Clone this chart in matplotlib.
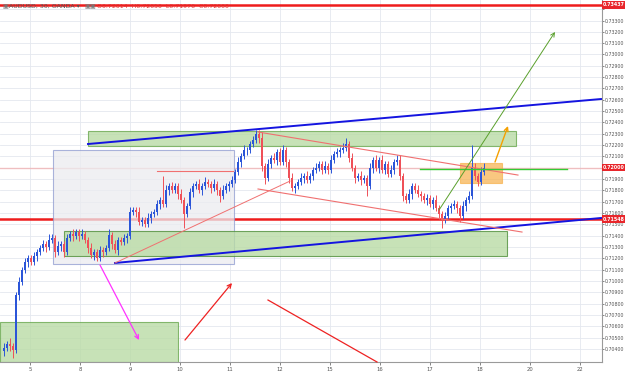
import numpy as np
import matplotlib
matplotlib.use("Agg")
import matplotlib.pyplot as plt
from matplotlib.patches import Rectangle

# ---------------- data (AUD/USD 30-minute candles) ----------------
open0 = 0.70380
closes = [
    0.70410, 0.70445, 0.70427, 0.70392, 0.70877, 0.70992, 0.71098, 0.71168, 0.71204, 0.71168,
    0.71221, 0.71257, 0.71292, 0.71327, 0.71301, 0.71363, 0.71380, 0.71257, 0.71310, 0.71327,
    0.71257, 0.71380, 0.71416, 0.71398, 0.71433, 0.71398, 0.71416, 0.71363, 0.71292, 0.71230,
    0.71257, 0.71204, 0.71274, 0.71257, 0.71292, 0.71407, 0.71327, 0.71274, 0.71363, 0.71345,
    0.71380, 0.71398, 0.71610, 0.71627, 0.71610, 0.71522, 0.71539, 0.71504, 0.71557, 0.71592,
    0.71610, 0.71680, 0.71716, 0.71680, 0.71804, 0.71839, 0.71804, 0.71839, 0.71769, 0.71716,
    0.71592, 0.71663, 0.71786, 0.71839, 0.71857, 0.71804, 0.71839, 0.71875, 0.71857, 0.71822,
    0.71857, 0.71804, 0.71751, 0.71804, 0.71839, 0.71857, 0.71892, 0.71963, 0.72051, 0.72104,
    0.72157, 0.72157, 0.72210, 0.72245, 0.72298, 0.72263, 0.72016, 0.71910, 0.72034, 0.72087,
    0.72069, 0.72139, 0.72051, 0.72157, 0.72051, 0.71910, 0.71822, 0.71839, 0.71875, 0.71910,
    0.71928, 0.71892, 0.71928, 0.71981, 0.71998, 0.72034, 0.71981, 0.72016, 0.71981, 0.72069,
    0.72122, 0.72139, 0.72157, 0.72175, 0.72210, 0.72087, 0.71998, 0.71910, 0.71928, 0.71892,
    0.71910, 0.71839, 0.71998, 0.72069, 0.71998, 0.72069, 0.71981, 0.72034, 0.71945, 0.71981,
    0.72051, 0.72069, 0.71928, 0.71751, 0.71716, 0.71769, 0.71839, 0.71804, 0.71769, 0.71751,
    0.71716, 0.71733, 0.71680, 0.71716, 0.71645, 0.71592, 0.71539, 0.71574, 0.71645, 0.71663,
    0.71680, 0.71645, 0.71574, 0.71663, 0.71716, 0.71751, 0.71998, 0.71928, 0.71875, 0.71963,
    0.72000,
]
# wick lengths in pips (0.0001)
wick_up = [
    4, 3, 5, 3, 3, 4, 3, 4, 3, 3,   4, 3, 3, 4, 3, 5, 4, 3, 4, 3,
    3, 4, 3, 4, 3, 3, 4, 3, 3, 4,   3, 3, 4, 3, 3, 5, 3, 4, 3, 3,
    4, 3, 4, 3, 3, 4, 3, 3, 4, 3,   3, 4, 3, 21, 4, 3, 4, 3, 3, 4,
    3, 3, 4, 3, 3, 4, 3, 4, 3, 3,   4, 3, 3, 4, 3, 3, 4, 3, 4, 3,
    4, 3, 3, 4, 4, 4, 5, 3, 4, 3,   4, 3, 4, 4, 3, 3, 4, 3, 3, 4,
    3, 4, 3, 3, 4, 3, 3, 4, 3, 4,   3, 4, 3, 4, 5, 3, 4, 3, 3, 4,
    3, 3, 4, 3, 4, 3, 4, 3, 3, 4,   3, 4, 4, 3, 3, 4, 3, 3, 4, 3,
    3, 4, 3, 3, 4, 3, 3, 4, 3, 3,   4, 3, 3, 4, 3, 4, 20, 4, 3, 4,
    4,
]
wick_dn = [
    4, 3, 4, 7, 3, 4, 3, 3, 4, 3,   3, 4, 3, 3, 4, 3, 3, 4, 3, 4,
    4, 3, 3, 4, 3, 4, 3, 3, 4, 3,   4, 3, 3, 4, 3, 3, 4, 3, 4, 3,
    3, 4, 3, 3, 4, 3, 4, 3, 3, 4,   3, 3, 4, 3, 3, 4, 3, 3, 4, 3,
    12, 3, 3, 4, 3, 3, 4, 3, 3, 4,  3, 4, 5, 3, 3, 4, 3, 3, 3, 4,
    3, 4, 3, 3, 3, 4, 4, 5, 3, 4,   3, 4, 3, 3, 4, 4, 3, 4, 3, 3,
    4, 3, 3, 4, 3, 3, 4, 3, 4, 3,   3, 3, 4, 3, 3, 4, 3, 4, 3, 4,
    3, 9, 3, 4, 3, 4, 3, 4, 3, 3,   4, 3, 4, 4, 3, 3, 4, 3, 3, 4,
    3, 4, 3, 4, 3, 4, 7, 3, 3, 4,   3, 4, 5, 3, 4, 3, 3, 4, 4, 3,
    3,
]
pip = 0.0001

day_ticks = [8.67, 25.33, 42.0, 58.67, 75.33, 92.0, 108.67, 125.33, 142.0, 158.67, 175.33, 192.0]
day_labels = ["5", "8", "9", "10", "11", "12", "15", "16", "17", "18", "20", "22"]
price_ticks = [round(0.704 + 0.001 * k, 3) for k in range(31)]

top_level = 0.73437
support_level = 0.71548
header_name = "AUDUSD, 30, OANDA \u25BE"
header_ohlc = "O0.72014  H0.72050  L0.71976  C0.72000"

# drawings (bar index, price)
blue_upper = ([28.0, 199.0], [0.72210, 0.72607])
blue_lower = ([37.0, 199.0], [0.71160, 0.71557])
chan_upper = ([84.67, 171.33], [0.72316, 0.71936])
chan_lower = ([84.67, 172.67], [0.71813, 0.71433])
red_diag = ([37.0, 95.33], [0.71160, 0.71883])
red_short_h = ([51.0, 76.33], [0.71976, 0.71976])
green_h = ([138.67, 187.67], [0.71990, 0.71990])
red_down_line = ([88.0, 124.33], [0.70833, 0.70286])
# rectangles: (x0, x1, p_low, p_high)
box_green_top = (28.0, 170.67, 0.72192, 0.72325)
box_green_mid = (20.0, 167.67, 0.71221, 0.71442)
box_green_bot = (-1.33, 58.0, 0.70286, 0.70639)
box_grey = (16.33, 76.67, 0.71151, 0.72157)
box_orange = (152.0, 166.0, 0.71866, 0.72042)
# arrows: (start, end)
arrow_magenta = ((32.0, 0.71142), (45.0, 0.70480))
arrow_red_up = ((60.33, 0.70480), (76.0, 0.70983))
arrow_green = ((145.0, 0.71627), (183.67, 0.73199))
arrow_orange = ((163.67, 0.72051), (168.0, 0.72369))

# ---------------- figure ----------------
W, H = 625, 372
fig = plt.figure(figsize=(W / 100, H / 100), dpi=100)
ax = fig.add_axes([0, 10 / H, 602 / W, 362 / H])
ax.set_xlim(-1.333, 199.333)
ax.set_ylim(0.70286, 0.73481)

# grid
for t in day_ticks:
    ax.axvline(t, color="#e4e8ef", lw=0.6, zorder=0)
for p in price_ticks:
    ax.axhline(p, color="#e4e8ef", lw=0.6, zorder=0)

# horizontal levels
ax.axhline(top_level, color="#ee1c1c", lw=1.8, zorder=1)
ax.axhline(support_level, color="#ee1c1c", lw=1.8, zorder=1)
ax.axhline(closes[-1], color="#f4a0a0", lw=1.0, alpha=0.6, zorder=1)

def rect(b, fc, ec, alpha, z, lw=0.8):
    x0, x1, p0, p1 = b
    ax.add_patch(Rectangle((x0, p0), x1 - x0, p1 - p0, facecolor=fc, edgecolor=ec,
                           lw=lw, alpha=alpha, zorder=z))

rect(box_grey, "#ececf0", "#8f9bd0", 0.75, 1.5)
rect(box_green_top, "#b9dba5", "#6aa84f", 0.8, 2)
rect(box_green_mid, "#b9dba5", "#4f8f3a", 0.8, 2)
rect(box_green_bot, "#b9dba5", "#6aa84f", 0.8, 2)
rect(box_orange, "#f7b04a", "#f7b04a", 0.7, 2)

# candles
c = np.array(closes)
o = np.concatenate([[open0], c[:-1]])
hi = np.maximum(o, c) + np.array(wick_up) * pip
lo = np.minimum(o, c) - np.array(wick_dn) * pip
idx = np.arange(len(c))
up = c >= o
col = np.where(up, "#2b55d8", "#ef5058")
ax.vlines(idx, lo, hi, colors=col, lw=0.7, zorder=4)
ax.bar(idx, np.maximum(np.abs(c - o), 0.00003), bottom=np.minimum(o, c), width=0.9,
       color=col, linewidth=0, zorder=4)

# trend lines
ax.plot(*blue_upper, color="#1414e0", lw=1.4, zorder=5)
ax.plot(*blue_lower, color="#1414e0", lw=1.4, zorder=5)
ax.plot(*chan_upper, color="#f07070", lw=0.8, zorder=5)
ax.plot(*chan_lower, color="#f07070", lw=0.8, zorder=5)
ax.plot(*red_diag, color="#f07070", lw=0.7, zorder=5)
ax.plot(*red_short_h, color="#f07070", lw=0.8, zorder=5)
ax.plot(*green_h, color="#33cc33", lw=1.0, zorder=5)
ax.plot(*red_down_line, color="#ee2222", lw=0.9, zorder=5, clip_on=False)

def arrow(a, color, lw=0.9):
    ax.annotate("", xy=a[1], xytext=a[0],
                arrowprops=dict(arrowstyle="->", color=color, lw=lw, mutation_scale=7,
                                shrinkA=0, shrinkB=0), zorder=6)

arrow(arrow_magenta, "#ff33ff", 0.9)
arrow(arrow_red_up, "#ee2222", 0.9)
arrow(arrow_green, "#5aa02c", 0.7)
arrow(arrow_orange, "#f5a000", 1.0)

# axes styling
for s in ["top", "left"]:
    ax.spines[s].set_visible(False)
for s in ["right", "bottom"]:
    ax.spines[s].set_color("#9a9a9a")
    ax.spines[s].set_linewidth(0.8)
ax.yaxis.tick_right()
tags = [top_level, closes[-1], support_level]
ax.set_yticks(price_ticks)
# labels hidden behind the red price tags are left blank
ax.set_yticklabels(["" if min(abs(p - t) for t in tags) < 0.0004 else f"{p:.5f}"
                    for p in price_ticks])
ax.set_xticks(day_ticks)
ax.set_xticklabels(day_labels)
ax.tick_params(axis="y", labelsize=3.4, colors="#555555", length=1.5, width=0.5, pad=0.8)
ax.tick_params(axis="x", labelsize=3.8, colors="#555555", length=2, width=0.5, pad=1.5)

# price tags
for p in tags:
    ax.text(1.002, p, f"{p:.5f}", transform=ax.get_yaxis_transform(), ha="left", va="center",
            fontsize=3.4, color="white", fontweight="bold", clip_on=False, zorder=10,
            bbox=dict(boxstyle="square,pad=0.25", fc="#e8262b", ec="none"))

# header
fig.text(2 / W, 1 - 6.5 / H, "\u25A3", fontsize=4.5, color="#777777", va="center")
fig.text(9 / W, 1 - 6.5 / H, header_name, fontsize=4.5, color="#555555", va="center")
fig.text(84 / W, 1 - 6.5 / H, "\u25A3\u25A3", fontsize=4.5, color="#777777", va="center")
fig.text(97 / W, 1 - 6.5 / H, header_ohlc, fontsize=4.5, color="#e03030", va="center")

fig.savefig("out.png", dpi=100)
